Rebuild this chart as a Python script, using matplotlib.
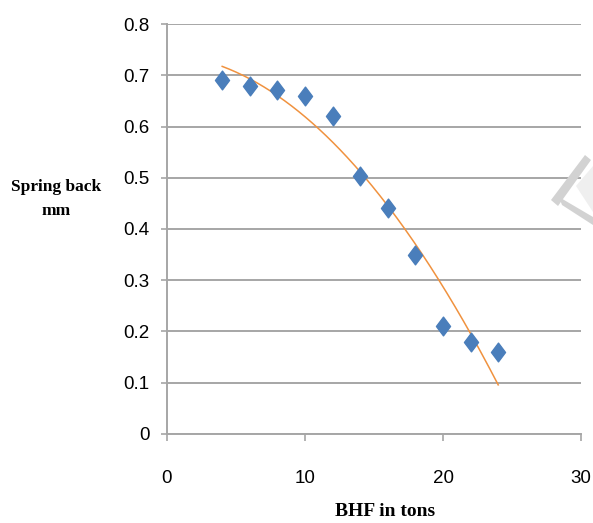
import matplotlib
matplotlib.use('Agg')
import matplotlib.pyplot as plt
import numpy as np
from matplotlib.path import Path
from matplotlib.patches import Polygon

# spring back vs blank holder force
bhf = [4, 6, 8, 10, 12, 14, 16, 18, 20, 22, 24]
spring_back = [0.69, 0.68, 0.672, 0.66, 0.62, 0.503, 0.44, 0.35, 0.21, 0.18, 0.16]

x_ticks = [0, 10, 20, 30]
y_ticks = [0, 0.1, 0.2, 0.3, 0.4, 0.5, 0.6, 0.7, 0.8]

grey = '#a6a6a6'
blue = '#4a7ebb'
orange = '#f0923f'

# slightly tall diamond, like the spreadsheet marker
diamond = Path([(0, 1), (0.75, 0), (0, -1), (-0.75, 0), (0, 1)],
               [Path.MOVETO, Path.LINETO, Path.LINETO, Path.LINETO, Path.CLOSEPOLY])

W, H = 593, 523
fig = plt.figure(figsize=(W / 100, H / 100), dpi=100)
ax = fig.add_axes([0.2816, 0.1702, 0.6982, 0.7839])

# 2nd order polynomial trendline
coef = np.polyfit(bhf, spring_back, 2)
xf = np.linspace(bhf[0], bhf[-1], 200)
ax.plot(xf, np.polyval(coef, xf), color=orange, lw=1.1, zorder=2)

ax.plot(bhf, spring_back, ls='none', marker=diamond, ms=13.5,
        color=blue, mec=blue, zorder=3)

ax.set_xlim(0, 30)
ax.set_ylim(0, 0.8)
ax.set_xticks(x_ticks)
ax.set_yticks(y_ticks)
ax.set_yticklabels(['0', '0.1', '0.2', '0.3', '0.4', '0.5', '0.6', '0.7', '0.8'])
ax.grid(axis='y', color=grey, lw=1.4)
ax.set_axisbelow(True)
for s in ['top', 'right']:
    ax.spines[s].set_visible(False)
for s in ['left', 'bottom']:
    ax.spines[s].set_color(grey)
    ax.spines[s].set_linewidth(1.4)
ax.tick_params(axis='x', length=5, width=1.2, color=grey, pad=21,
               labelsize=13.5, labelcolor='black')
ax.tick_params(axis='y', length=4.5, width=1.2, color=grey, pad=8,
               labelsize=13.5, labelcolor='black')
for lab in ax.get_xticklabels() + ax.get_yticklabels():
    lab.set_family('Liberation Sans')

fig.text(385 / W, 1 - 511 / H, 'BHF in tons', family='Liberation Serif',
         weight='bold', fontsize=14, ha='center', va='center')
fig.text(56 / W, 1 - 199 / H, 'Spring back\nmm', family='Liberation Serif',
         weight='bold', fontsize=12.5, ha='center', va='center', linespacing=1.6)

# faint watermark strokes at the right edge (pixel coords from top-left)
def px(pts):
    return [(x / W, 1 - y / H) for x, y in pts]

wm = [([(576, 186), (593, 166), (593, 212)], '#efefef'),
      ([(551, 200), (585, 155), (591, 160), (558, 206)], '#d2d2d2'),
      ([(559, 197), (593, 217), (593, 225), (562, 205)], '#d2d2d2')]
for pts, c in wm:
    fig.patches.append(Polygon(px(pts), closed=True, transform=fig.transFigure,
                               facecolor=c, edgecolor='none', zorder=0))

fig.savefig('out.png', dpi=100)
